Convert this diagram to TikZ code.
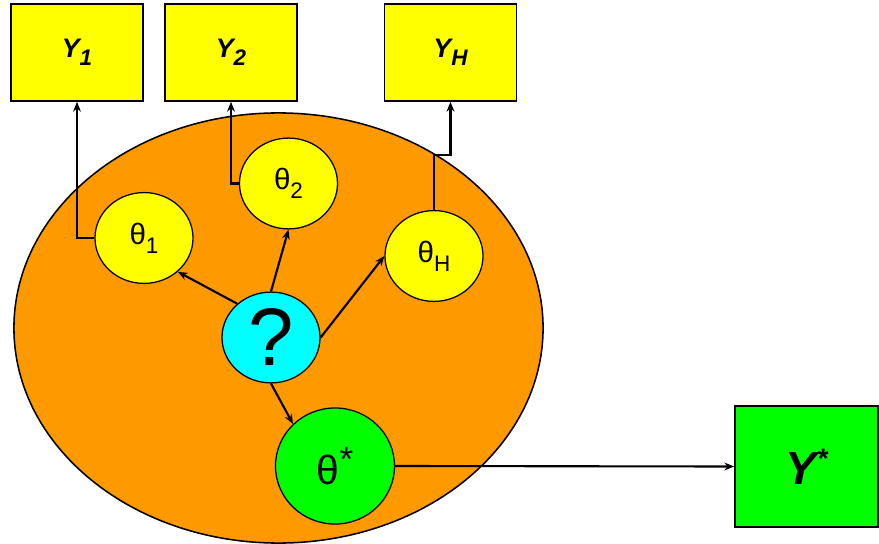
\documentclass[tikz,border=0pt]{standalone}
\usepackage{fontspec}
\setmainfont{Liberation Sans}
\usetikzlibrary{arrows.meta,positioning,shapes.geometric}
\definecolor{obsfill}{HTML}{FFFF00}
\definecolor{poolfill}{HTML}{FF9900}
\definecolor{hyperfill}{HTML}{00FFFF}
\definecolor{newfill}{HTML}{00FF00}
\newcommand{\lowsub}[1]{\raisebox{-0.3em}{\fontsize{16}{18}\selectfont #1}}

\begin{document}
\begin{tikzpicture}[x=0.025cm, y=-0.025cm,
  obsbox/.style={draw, line width=1.1pt, fill=obsfill, minimum width=3.3cm, minimum height=2.425cm, inner sep=0pt, font=\fontsize{19}{21}\selectfont\bfseries\itshape},
  unit/.style={ellipse, draw, line width=0.9pt, fill=obsfill, minimum width=2.45cm, minimum height=2.27cm, inner sep=0pt, font=\fontsize{21}{23}\selectfont},
  link/.style={-{Stealth[length=7pt,width=5.5pt]}, line width=1.5pt}]
  \useasboundingbox (0,0) rectangle (879,544);

  % Population of units
  \node[ellipse, draw, line width=1.1pt, fill=poolfill, minimum width=13.225cm, minimum height=10.75cm] (pool) at (278.5,328) {};

  % Observed data
  \node[obsbox] (y1) at (77,52.5) {Y\lowsub{1}};
  \node[obsbox] (y2) at (231,52.5) {Y\lowsub{2}};
  \node[obsbox] (yH) at (450.5,52.5) {Y\lowsub{H}};
  \node[obsbox, fill=newfill, minimum width=3.575cm, minimum height=3.025cm, font=\fontsize{33}{35}\selectfont\bfseries\itshape] (ystar) at (806.5,466.5) {Y\raisebox{0.35em}{\fontsize{20}{22}\selectfont *}};

  % Unit parameters
  \node[unit] (th1) at (144,238) {θ\lowsub{1}};
  \node[unit] (th2) at (288.5,183.5) {θ\lowsub{2}};
  \node[unit] (thH) at (434,256) {θ\lowsub{H}};
  \node[unit, fill=hyperfill, font=\fontsize{58}{60}\selectfont] (q) at (271,337.5) {?};
  \node[unit, fill=newfill, minimum width=2.975cm, minimum height=2.9cm, font=\fontsize{29}{31}\selectfont] (ths) at (335,466) {θ\raisebox{0.3em}{\fontsize{25}{27}\selectfont *}};

  % Hyperparameter to units
  \draw[link] (q.135) -- (th1.-45);
  \draw[link] (q.north) -- (th2.south);
  \draw[link] (q.east) -- (thH.west);
  \draw[link] (q.south) -- (ths.135);

  % Units to data
  \coordinate (kH) at (450.5,155);
  \draw[link] (th1.west) -| (y1.south);
  \draw[link] (th2.west) -| (y2.south);
  \draw[link] (thH.north) |- (kH) -- (yH.south);
  \draw[link] (ths.east) -- (ystar.west);
\end{tikzpicture}
\end{document}
